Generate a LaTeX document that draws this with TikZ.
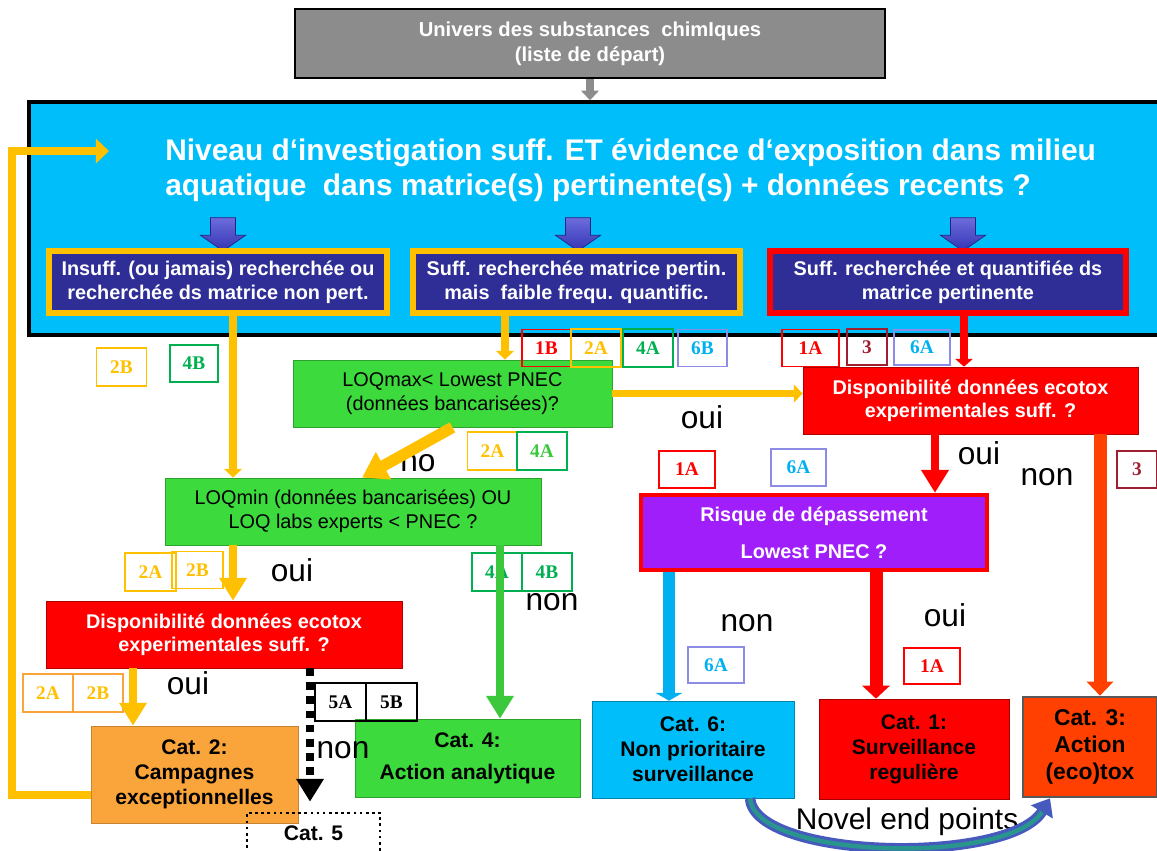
\documentclass[tikz,border=0pt]{standalone}
\usepackage{fontspec}
\setmainfont{Liberation Sans}
\newfontfamily\tagfont{Liberation Serif}
\usepackage{tikz}
\usetikzlibrary{arrows.meta,shapes.arrows}
\definecolor{sky}{RGB}{0,190,250}
\definecolor{navy}{RGB}{46,46,150}
\definecolor{gold}{RGB}{255,192,0}
\definecolor{leaf}{RGB}{60,218,60}
\definecolor{grass}{RGB}{60,200,60}
\definecolor{taggreen}{RGB}{0,176,80}
\definecolor{tagblue}{RGB}{0,176,240}
\definecolor{tagline}{RGB}{140,140,230}
\definecolor{wine}{RGB}{160,30,50}
\definecolor{risqpurple}{RGB}{160,30,250}
\definecolor{peach}{RGB}{250,165,60}
\definecolor{flame}{RGB}{255,64,0}
\definecolor{stone}{RGB}{140,140,140}
\definecolor{arrblue}{RGB}{60,60,210}
\definecolor{novelout}{RGB}{70,90,190}
\definecolor{novelin}{RGB}{40,150,140}

\begin{document}
\begin{tikzpicture}[x=0.02cm,y=-0.02cm,
 sz/.style 2 args={minimum width=#1*0.02cm,minimum height=#2*0.02cm},
 box/.style={inner sep=0pt,align=center,text=white,font=\bfseries\fontsize{11.3}{13.7}\selectfont},
 ask/.style={box,fill=navy,line width=3.5pt},
 loq/.style={box,fill=leaf,draw=leaf!75!black,text=black,font=\fontsize{11.3}{13.7}\selectfont},
 dispo/.style={box,fill=red,draw=red!70!black,font=\bfseries\fontsize{11.3}{13}\selectfont},
 cat/.style={box,text=black,font=\bfseries\fontsize{12}{14.2}\selectfont},
 blk/.style={single arrow,shape border rotate=270,top color=arrblue!75!white,bottom color=arrblue!85!black,draw=arrblue!60!black,inner sep=0.24cm,minimum width=0.9cm,minimum height=0.6cm,single arrow head extend=0.2cm,single arrow tip angle=110},
 tag/.style 2 args={draw=#1,text=#2,line width=0.7pt,inner sep=0pt,sz={50}{38},font=\tagfont\bfseries\fontsize{11}{13}\selectfont},
 word/.style={inner sep=0pt,font=\fontsize{18}{20}\selectfont},
 yel/.style={draw=gold,line width=4.8pt},
 bigtip/.style={-{Triangle[width=15pt,length=13pt]}},
 thintip/.style={-{Triangle[width=10pt,length=5pt]}}]
\useasboundingbox (0,0) rectangle (1157,850);
\clip (0,0) rectangle (1157,850);

% start and question
\node[box,fill=stone,draw=black,line width=1.5pt,sz={590}{69},font=\bfseries\fontsize{11.5}{14.2}\selectfont] (univ) at (590,43.5) {Univers des substances~ chimIques\\(liste de départ)};
\node[box,fill=sky,draw=black,line width=2pt,sz={1141}{233}] (niveau) at (599.5,218.5) {};
\node[box,anchor=west,align=left,font=\bfseries\fontsize{17}{20}\selectfont] (question) at (165,170.5) {Niveau d‘investigation suff. ET évidence d‘exposition dans milieu\\aquatique~ dans matrice(s) pertinente(s) + données recents ?};
\node[blk] (arA) at (223,230) {};
\node[blk] (arB) at (578,230) {};
\node[blk] (arC) at (963,230) {};
\node[ask,draw=gold,sz={338}{62}] (insuff) at (218,282) {Insuff. (ou jamais) recherchée ou\\recherchée ds matrice non pert.};
\node[ask,draw=gold,sz={327}{62}] (suffpart) at (576.5,282) {Suff. recherchée matrice pertin.\\mais~ faible frequ. quantific.};
\node[ask,draw=red,sz={356}{62}] (suffquant) at (948,282) {Suff. recherchée et quantifiée ds\\matrice pertinente};

% questions
\node[loq,sz={319}{67}] (loqmax) at (452.5,393.5) {LOQmax< Lowest PNEC\\(données bancarisées)?};
\node[loq,sz={376}{67}] (loqmin) at (353,511.5) {LOQmin (données bancarisées) OU\\LOQ labs experts < PNEC ?};
\node[dispo,sz={335}{67}] (dispoR) at (970.5,400.5) {Disponibilité données ecotox\\experimentales suff. ?};
\node[dispo,sz={356}{67}] (dispoL) at (224,634.5) {Disponibilité données ecotox\\experimentales suff. ?};
\node[dispo,fill=risqpurple,draw=red,line width=2.5pt,sz={346}{75},font=\bfseries\fontsize{11.3}{21}\selectfont] (risque) at (814,532.5) {Risque de dépassement\\Lowest PNEC ?};

% categories
\node[cat,fill=peach,draw=peach!80!black,sz={207}{97}] (cat2) at (194.5,774.5) {Cat. 2:\\Campagnes\\exceptionnelles};
\node[cat,fill=leaf,draw=leaf!75!black,sz={225}{78},font=\bfseries\fontsize{12}{18}\selectfont] (cat4) at (467.5,758) {Cat. 4:\\Action analytique};
\node[cat,draw=black,dotted,line width=1.5pt,sz={133}{40}] (cat5) at (313.5,833) {Cat. 5};
\node[cat,fill=sky,draw=sky!70!black,sz={202}{97}] (cat6) at (693,749.5) {Cat. 6:\\Non prioritaire\\surveillance};
\node[cat,fill=red,draw=red!65!black,sz={190}{100}] (cat1) at (914,749) {Cat. 1:\\Surveillance\\regulière};
\node[cat,fill=flame,draw=black!65,line width=1.5pt,sz={134}{100},font=\bfseries\fontsize{13}{15.5}\selectfont] (cat3) at (1090,747) {Cat. 3:\\Action\\(eco)tox};

% tags
\node[tag={red}{red},sz={49}{37}] (t1B) at (546.5,348) {1B};
\node[tag={gold}{gold}] (t2A) at (596,348) {2A};
\node[tag={taggreen}{taggreen}] (t4A) at (648,348) {4A};
\node[tag={tagline}{tagblue},sz={49}{37}] (t6B) at (702.5,348) {6B};
\node[tag={red}{red},sz={57}{37}] (t1Ar) at (810.5,348) {1A};
\node[tag={wine}{wine},sz={40}{36}] (t3r) at (867,347) {3};
\node[tag={tagline}{tagblue},sz={56}{35}] (t6Ar) at (922,347.5) {6A};
\node[tag={gold}{gold}] (t2Bl) at (121.5,367) {2B};
\node[tag={taggreen}{taggreen},sz={48}{37}] (t4Bl) at (194,363.5) {4B};
\node[tag={gold}{gold}] (t2An) at (492.5,451) {2A};
\node[tag={taggreen}{grass}] (t4An) at (542,451) {4A};
\node[tag={red}{red},sz={56}{37}] (t1Ap) at (687,469.5) {1A};
\node[tag={tagline}{tagblue},sz={55}{37}] (t6Ap) at (798.5,467.5) {6A};
\node[tag={wine}{wine},sz={40}{37}] (t3n) at (1137,469.5) {3};
\node[tag={gold}{gold},sz={51}{38}] (t2Ao) at (150.5,572) {2A};
\node[tag={gold}{gold},sz={51}{37}] (t2Bo) at (197.5,570) {2B};
\node[tag={taggreen}{taggreen}] (t4Ag) at (497,572) {4A};
\node[tag={taggreen}{taggreen}] (t4Bg) at (547,572) {4B};
\node[tag={peach}{gold}] (t2Ac) at (48,693) {2A};
\node[tag={peach}{gold}] (t2Bc) at (98,693) {2B};
\node[tag={black}{black},sz={51}{38}] (t5A) at (340.5,702) {5A};
\node[tag={black}{black},sz={51}{38}] (t5B) at (391.5,702) {5B};
\node[tag={tagline}{tagblue},sz={56}{36}] (t6As) at (716,665) {6A};
\node[tag={red}{red},sz={56}{36}] (t1As) at (932,666) {1A};

% answers
\node[word] (ouiY) at (702,417) {oui};
\node[word] (ouiR) at (979,453) {oui};
\node[word] (nonR) at (1047,477) {non};
\node[word] (noD) at (418,463) {no};
\node[word] (ouiM) at (292,570) {oui};
\node[word] (nonG) at (552,602) {non};
\node[word] (ouiL) at (188,683) {oui};
\node[word] (nonK) at (343,750) {non};
\node[word] (nonS) at (747,623) {non};
\node[word] (ouiT) at (945,615) {oui};
\node[word,font=\fontsize{17}{20}\selectfont] (novel) at (907,822) {Novel end points};

\coordinate (xa) at (233,0);
\coordinate (xb) at (505,0);
\coordinate (xc) at (964,0);
\coordinate (xd) at (362,0);
\coordinate (xg) at (500,0);
\coordinate (xl) at (133,0);
\coordinate (xk) at (310,0);
\coordinate (xr) at (935,0);
\coordinate (xo) at (1100,0);
\coordinate (xs) at (669,0);
\coordinate (xt) at (876,0);
\coordinate (lp1) at (12,795);
\coordinate (lp2) at (109,151);

\draw[draw=stone,line width=4.5pt,-{Triangle[width=10pt,length=5.5pt]}] (univ.south) -- (univ.south |- niveau.north);
\draw[yel,thintip] (insuff.south -| xa) -- (loqmin.north -| xa);
\draw[yel,thintip] (suffpart.south -| xb) -- (loqmax.north -| xb);
\draw[draw=red,line width=4pt,-{Triangle[width=10pt,length=4.5pt]}] (suffquant.south -| xc) -- (dispoR.north -| xc);
\draw[draw=gold,line width=4pt,thintip] (loqmax.east) -- (dispoR.west |- loqmax.east);
\draw[draw=gold,line width=6.5pt,-{Triangle[width=17pt,length=14pt]}] (loqmax.south) -- (loqmin.north -| xd);
\draw[yel,bigtip] (loqmin.south -| xa) -- (dispoL.north -| xa);
\draw[draw=grass,line width=5pt,bigtip] (loqmin.south -| xg) -- (cat4.north -| xg);
\draw[yel,bigtip] (dispoL.south -| xl) -- (cat2.north -| xl);
\draw[draw=black,line width=4.5pt,dash pattern=on 4.5pt off 3.5pt,bigtip,shorten >=0.2cm] (dispoL.south -| xk) -- (cat5.north -| xk);
\draw[yel,-{Triangle[width=13.6pt,length=7.4pt]}] (cat2.west |- lp1) -- (lp1) |- (lp2);
\draw[draw=red,line width=5pt,bigtip] (dispoR.south -| xr) -- (risque.north -| xr);
\draw[draw=flame,line width=7.4pt,-{Triangle[width=14.8pt,length=8pt]}] (dispoR.south -| xo) -- (cat3.north -| xo);
\draw[draw=tagblue,line width=6.8pt,-{Triangle[width=15.4pt,length=4.5pt]}] (risque.south -| xs) -- (cat6.north -| xs);
\draw[draw=red,line width=7.4pt,-{Triangle[width=15.4pt,length=7.4pt]}] (risque.south -| xt) -- (cat1.north -| xt);
\draw[draw=novelout,line width=6pt,-{Triangle[width=14pt,length=9pt]}] ([xshift=1.14cm]cat6.south) .. controls (755,860) and (1010,865) .. ([xshift=-0.8cm]cat3.south);
\draw[draw=novelin,line width=2.5pt,shorten >=9pt] ([xshift=1.14cm]cat6.south) .. controls (755,860) and (1010,865) .. ([xshift=-0.8cm]cat3.south);
\end{tikzpicture}
\end{document}
